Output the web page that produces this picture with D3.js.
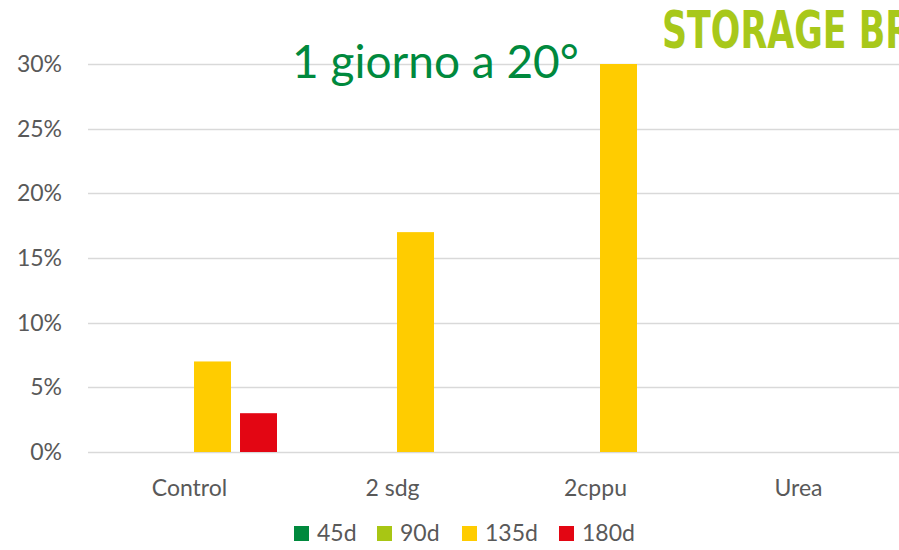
<!DOCTYPE html>
<html>
<head>
<meta charset="utf-8">
<script src="https://cdn.jsdelivr.net/npm/d3@7"></script>
<style>
  body { margin: 0; background: #fff; }
  svg { font-family: Lato, "Open Sans", sans-serif; }
</style>
</head>
<body>
<svg id="chart" width="899" height="550"></svg>
<script>
var categories = ["Control", "2 sdg", "2cppu", "Urea"];
var seriesNames = ["45d", "90d", "135d", "180d"];
var seriesColors = ["#00893d", "#a8c614", "#ffcc00", "#e30613"];
// values in %, one array per series (null = no bar)
var s45 = [null, null, null, null];
var s90 = [null, null, null, null];
var s135 = [7, 17, 30, null];
var s180 = [3, null, null, null];
var yTicks = [0, 5, 10, 15, 20, 25, 30];

var series = [s45, s90, s135, s180];

var svg = d3.select("#chart");
var w = 899, h = 550;
var plotLeft = 88, plotRight = 900, plotTop = 64, plotBottom = 452;

var x = d3.scaleBand().domain(categories).range([plotLeft, plotRight]).paddingInner(0).paddingOuter(0);
var xs = d3.scaleBand().domain(seriesNames).range([14, x.bandwidth() - 14]).paddingInner(0.196).paddingOuter(0);
var y = d3.scaleLinear().domain([0, 30]).range([plotBottom, plotTop]);

// gridlines
svg.append("g").selectAll("line").data(yTicks).enter().append("line")
  .attr("x1", plotLeft).attr("x2", w)
  .attr("y1", function(d) { return Math.round(y(d)) + 0.5; })
  .attr("y2", function(d) { return Math.round(y(d)) + 0.5; })
  .attr("stroke", "#d9d9d9").attr("stroke-width", 1.3);

// y axis labels
var yAxis = d3.axisLeft(y).tickValues(yTicks).tickFormat(function(d) { return d + "%"; }).tickSize(0).tickPadding(0);
var ya = svg.append("g").attr("transform", "translate(62,0)").call(yAxis);
ya.select(".domain").remove();
ya.selectAll("text").attr("fill", "#595959").style("font-size", "23px").style("font-family", "Lato, sans-serif");

// x axis labels
var xAxis = d3.axisBottom(x).tickSize(0).tickPadding(0);
var xa = svg.append("g").attr("transform", "translate(0,480)").call(xAxis);
xa.select(".domain").remove();
xa.selectAll("text").attr("fill", "#595959").style("font-size", "23px").style("font-family", "Lato, sans-serif");

// bars
series.forEach(function(vals, si) {
  svg.append("g").selectAll("rect")
    .data(vals.map(function(v, ci) { return { c: categories[ci], v: v }; }).filter(function(d) { return d.v != null; }))
    .enter().append("rect")
    .attr("x", function(d) { return x(d.c) + xs(seriesNames[si]); })
    .attr("width", xs.bandwidth())
    .attr("y", function(d) { return y(d.v); })
    .attr("height", function(d) { return y(0) - y(d.v); })
    .attr("fill", seriesColors[si]);
});

// title
svg.append("text").attr("x", 292).attr("y", 78)
  .attr("fill", "#00893d").style("font-size", "46px").style("font-family", "Lato, sans-serif")
  .text("1 giorno a 20°");

// header fragment (cut by the right edge)
svg.append("text").attr("x", 662).attr("y", 48)
  .attr("fill", "#a8c81a").style("font-size", "52px").style("font-weight", "bold")
  .style("font-family", "'DejaVu Sans Condensed', 'Liberation Sans', sans-serif")
  .attr("textLength", 250).attr("lengthAdjust", "spacingAndGlyphs")
  .text("STORAGE BR");

// legend
var legX = [294, 377, 462, 559];
var lg = svg.append("g");
seriesNames.forEach(function(n, i) {
  lg.append("rect").attr("x", legX[i]).attr("y", 526).attr("width", 15).attr("height", 15).attr("fill", seriesColors[i]);
  lg.append("text").attr("x", legX[i] + 23).attr("y", 541).attr("fill", "#595959")
    .style("font-size", "23px").style("font-family", "Lato, sans-serif").text(n);
});
</script>
</body>
</html>
